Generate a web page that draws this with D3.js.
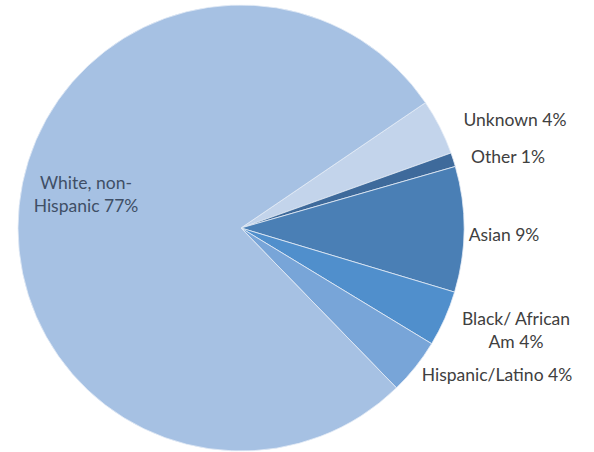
<!DOCTYPE html>
<html>
<head>
<meta charset="utf-8">
<script src="https://cdn.jsdelivr.net/npm/d3@7"></script>
<style>
  html, body { margin: 0; padding: 0; background: #fff; }
  svg { display: block; }
</style>
</head>
<body>
<script>
// Ethnicity breakdown, clockwise starting just right of 12 o'clock
const categories = ["Unknown", "Other", "Asian", "Black/ African Am", "Hispanic/Latino", "White, non-Hispanic"];
const values = [4, 1, 9, 4, 4, 77];
const labelLines = [
  ["Unknown 4%"],
  ["Other 1%"],
  ["Asian 9%"],
  ["Black/ African", "Am 4%"],
  ["Hispanic/Latino 4%"],
  ["White, non-", "Hispanic 77%"]
];
const colors = ["#c3d4eb", "#3e6a9b", "#4a7fb5", "#508fcc", "#78a5d8", "#a6c1e3"];

const width = 594, height = 452;
const cx = 241, cy = 228, radius = 223;
const start = 55.8 * Math.PI / 180;

const svg = d3.select("body").append("svg")
  .attr("width", width).attr("height", height);

const pie = d3.pie().sort(null).value(d => d)
  .startAngle(start).endAngle(start + 2 * Math.PI);
const arc = d3.arc().innerRadius(0).outerRadius(radius);
const arcs = pie(values);

const g = svg.append("g").attr("transform", `translate(${cx},${cy})`);
g.selectAll("path").data(arcs).join("path")
  .attr("d", arc)
  .attr("fill", (d, i) => colors[i])
  .attr("stroke", "#e4ecf6")
  .attr("stroke-width", 0.8);

// Label anchor points (centre of each text block)
const labelPos = [[515, 122], [508, 159], [504, 237], [516, 321], [497, 377], [86, 185]];

const labels = svg.append("g")
  .attr("font-family", "Lato, 'Open Sans', sans-serif")
  .attr("font-size", 17.5)
  .attr("fill", "#404040")
  .attr("text-anchor", "middle");

labelLines.forEach((lines, i) => {
  const t = labels.append("text")
    .attr("x", labelPos[i][0]).attr("y", labelPos[i][1])
    .attr("dominant-baseline", "middle")
    .attr("fill", i === 5 ? "#3f4f66" : "#404040");
  lines.forEach((ln, j) => {
    t.append("tspan").attr("x", labelPos[i][0]).attr("dy", j === 0 ? 0 : 23).text(ln);
  });
});
</script>
</body>
</html>
